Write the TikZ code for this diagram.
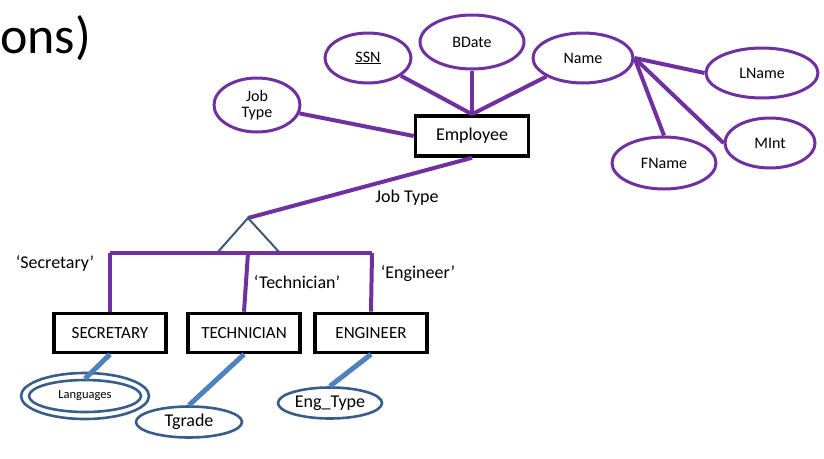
\documentclass[tikz,border=0pt]{standalone}
\usepackage{fontspec}
\setmainfont{Carlito}
\usetikzlibrary{shapes.geometric}
\definecolor{erpurple}{HTML}{7030A0}
\definecolor{erblue}{HTML}{4F81BD}
\definecolor{erdark}{HTML}{385D8A}
\definecolor{ertri}{HTML}{3B5A78}
\begin{document}
\begin{tikzpicture}[x=1pt,y=-1pt,
  attr/.style={ellipse,draw=erpurple,line width=3pt,inner sep=0pt,font=\fontsize{16}{17}\selectfont,align=center},
  battr/.style={ellipse,draw=erdark,line width=2.6pt,inner sep=0pt,font=\fontsize{18}{19}\selectfont},
  ent/.style={rectangle,draw=black,line width=3.6pt,inner sep=0pt,minimum width=112pt,minimum height=39pt,font=\fontsize{17}{18}\selectfont},
  pline/.style={draw=erpurple,line width=4pt},
  bline/.style={draw=erblue,line width=5pt},
  lbl/.style={font=\fontsize{18}{19}\selectfont,inner sep=0pt}]
\useasboundingbox (0,0) rectangle (824,458);
\node[anchor=west,inner sep=0pt,font=\fontsize{52}{54}\selectfont] (title) at (0,38) {ons)};
% top attributes
\node[attr,minimum width=86pt,minimum height=54pt,font=\fontsize{16}{16}\selectfont] (jobtype) at (257,105) {Job\\Type};
\node[attr,minimum width=86pt,minimum height=50pt] (ssn) at (368,58) {\underline{SSN}};
\node[attr,minimum width=104pt,minimum height=54pt] (bdate) at (472,42) {BDate};
\node[attr,minimum width=100pt,minimum height=50pt] (name) at (583,58) {Name};
\node[attr,minimum width=112pt,minimum height=50pt] (lname) at (762,73) {LName};
\node[attr,minimum width=90pt,minimum height=50pt] (mint) at (770,143) {MInt};
\node[attr,minimum width=104pt,minimum height=52pt] (fname) at (664,163) {FName};
\node[ent,minimum width=113pt,minimum height=40pt,font=\fontsize{18}{19}\selectfont] (emp) at (472,136) {Employee};
% connectors top
\draw[pline] (jobtype) -- (emp.west);
\draw[pline] (ssn) -- (emp.north);
\draw[pline] (bdate) -- (emp.north);
\draw[pline] (name) -- (emp.north);
\draw[pline] (name.east) -- (lname.west);
\draw[pline] (name.east) -- (mint.west);
\draw[pline] (name.east) -- (fname.north);
% specialization
\coordinate (apex) at (248,218);
\coordinate (tl) at (217,253);
\coordinate (tr) at (280,253);
\coordinate (h1) at (110,253);
\coordinate (h2) at (248,253);
\coordinate (h3) at (372,253);
\draw[pline] (emp.south) -- (apex);
\node[lbl] (jtlabel) at (407,198) {Job Type};
\draw[draw=ertri,line width=2pt] (tl) -- (apex) -- (tr);
\node[ent] (sec) at (110,333) {SECRETARY};
\node[ent] (tech) at (244,333) {TECHNICIAN};
\node[ent] (eng) at (371,333) {ENGINEER};
\draw[pline] (h1) -- (h3);
\draw[pline] (h1) -- (sec.north);
\draw[pline] (h2) -- (tech.north);
\draw[pline] (h3) -- (eng.north);
\node[lbl] (lsec) at (55,263) {‘Secretary’};
\node[lbl] (ltech) at (297,282) {‘Technician’};
\node[lbl] (leng) at (418,274) {‘Engineer’};
% bottom attributes
\node[battr,minimum width=128pt,minimum height=46pt] (langout) at (85,396) {};
\node[battr,minimum width=112pt,minimum height=32pt,font=\fontsize{12.5}{13}\selectfont] (lang) at (85,396) {Languages};
\node[battr,minimum width=106pt,minimum height=31pt] (tgrade) at (189,422) {Tgrade};
\node[battr,minimum width=104pt,minimum height=31pt] (engtype) at (330,403) {Eng\_Type};
\draw[bline] (sec.south) -- (lang.north);
\draw[bline] (tech.south) -- (tgrade.north);
\draw[bline] (eng.south) -- (engtype.north);
\end{tikzpicture}
\end{document}
